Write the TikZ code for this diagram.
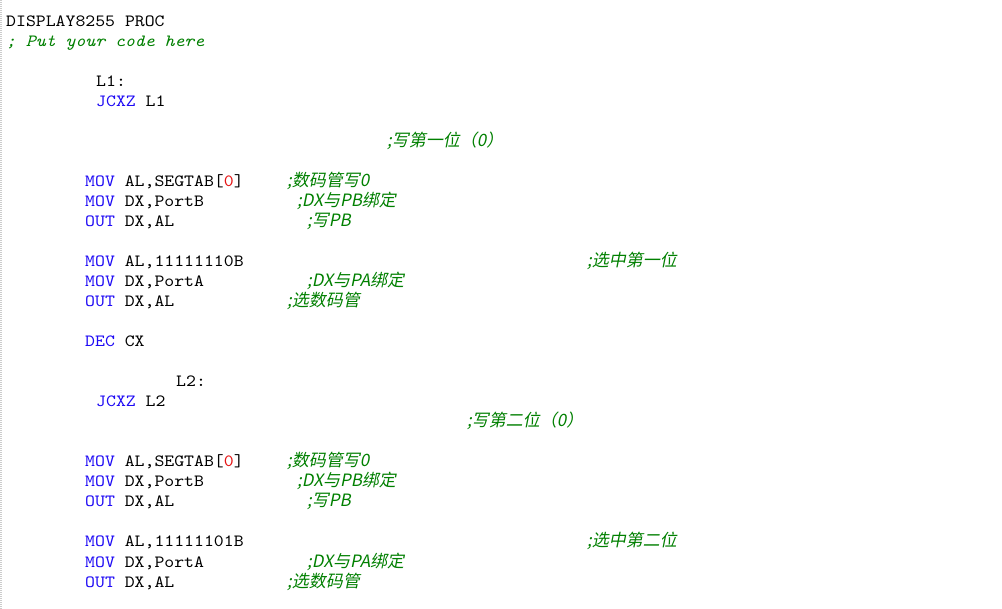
\documentclass[tikz,border=0pt]{standalone}
\usepackage{fontspec}
\setmonofont[FakeStretch=1.1,ItalicFont=lmmono10-italic.otf,ItalicFeatures={FakeStretch=1.1}]{lmmono10-regular.otf}
\newfontfamily\cjk[FakeSlant=0.2]{Noto Sans CJK SC}
\definecolor{kwblue}{RGB}{30,10,245}
\definecolor{cmtgreen}{RGB}{0,128,0}
\definecolor{numred}{RGB}{230,20,20}
\newcommand{\kw}[1]{\textcolor{kwblue}{#1}}

\begin{document}
\begin{tikzpicture}[x=1pt,y=-1pt,
  code/.style={anchor=base west,inner sep=0pt,font=\ttfamily\fontsize{17.15}{20}\selectfont,text=black},
  cmt/.style={anchor=base west,inner sep=0pt,font=\cjk\fontsize{17}{20}\selectfont,text=cmtgreen}]
\useasboundingbox [fill=white] (0,0) rectangle (1002,609);
\draw [black!20,line width=2pt,dash pattern=on 1pt off 1pt] (1,0) -- (1,609);
% header
\node [code] (proc) at (6,27) {DISPLAY8255 PROC};
\node [code,text=cmtgreen,font=\ttfamily\itshape\fontsize{17.15}{20}\selectfont] (hint) at (6,47) {; Put your code here};
% first digit
\node [code] (lone) at (96,87) {L1:};
\node [code] (jone) at (96,107) {\kw{JCXZ} L1};
\node [cmt] (cone) at (387,147) {;写第一位（0）};
\node [code] (movA) at (85,187) {\kw{MOV} AL,SEGTAB[\textcolor{numred}{0}]};
\node [cmt] (cmovA) at (287,187) {;数码管写0};
\node [code] (movB) at (85,207) {\kw{MOV} DX,PortB};
\node [cmt] (cmovB) at (297,207) {;DX与PB绑定};
\node [code] (outB) at (85,227) {\kw{OUT} DX,AL};
\node [cmt] (coutB) at (307,227) {;写PB};
\node [code] (movC) at (85,267) {\kw{MOV} AL,11111110B};
\node [cmt] (cmovC) at (587,267) {;选中第一位};
\node [code] (movD) at (85,287) {\kw{MOV} DX,PortA};
\node [cmt] (cmovD) at (307,287) {;DX与PA绑定};
\node [code] (outD) at (85,307) {\kw{OUT} DX,AL};
\node [cmt] (coutD) at (287,307) {;选数码管};
\node [code] (dec) at (85,347) {\kw{DEC} CX};
% second digit
\node [code] (ltwo) at (176,387) {L2:};
\node [code] (jtwo) at (96,407) {\kw{JCXZ} L2};
\node [cmt] (ctwo) at (467,427) {;写第二位（0）};
\node [code] (movE) at (85,467) {\kw{MOV} AL,SEGTAB[\textcolor{numred}{0}]};
\node [cmt] (cmovE) at (287,467) {;数码管写0};
\node [code] (movF) at (85,487) {\kw{MOV} DX,PortB};
\node [cmt] (cmovF) at (297,487) {;DX与PB绑定};
\node [code] (outF) at (85,507) {\kw{OUT} DX,AL};
\node [cmt] (coutF) at (307,507) {;写PB};
\node [code] (movG) at (85,547) {\kw{MOV} AL,11111101B};
\node [cmt] (cmovG) at (587,547) {;选中第二位};
\node [code] (movH) at (85,567) {\kw{MOV} DX,PortA};
\node [cmt] (cmovH) at (307,567) {;DX与PA绑定};
\node [code] (outH) at (85,587) {\kw{OUT} DX,AL};
\node [cmt] (coutH) at (287,587) {;选数码管};
\end{tikzpicture}
\end{document}
